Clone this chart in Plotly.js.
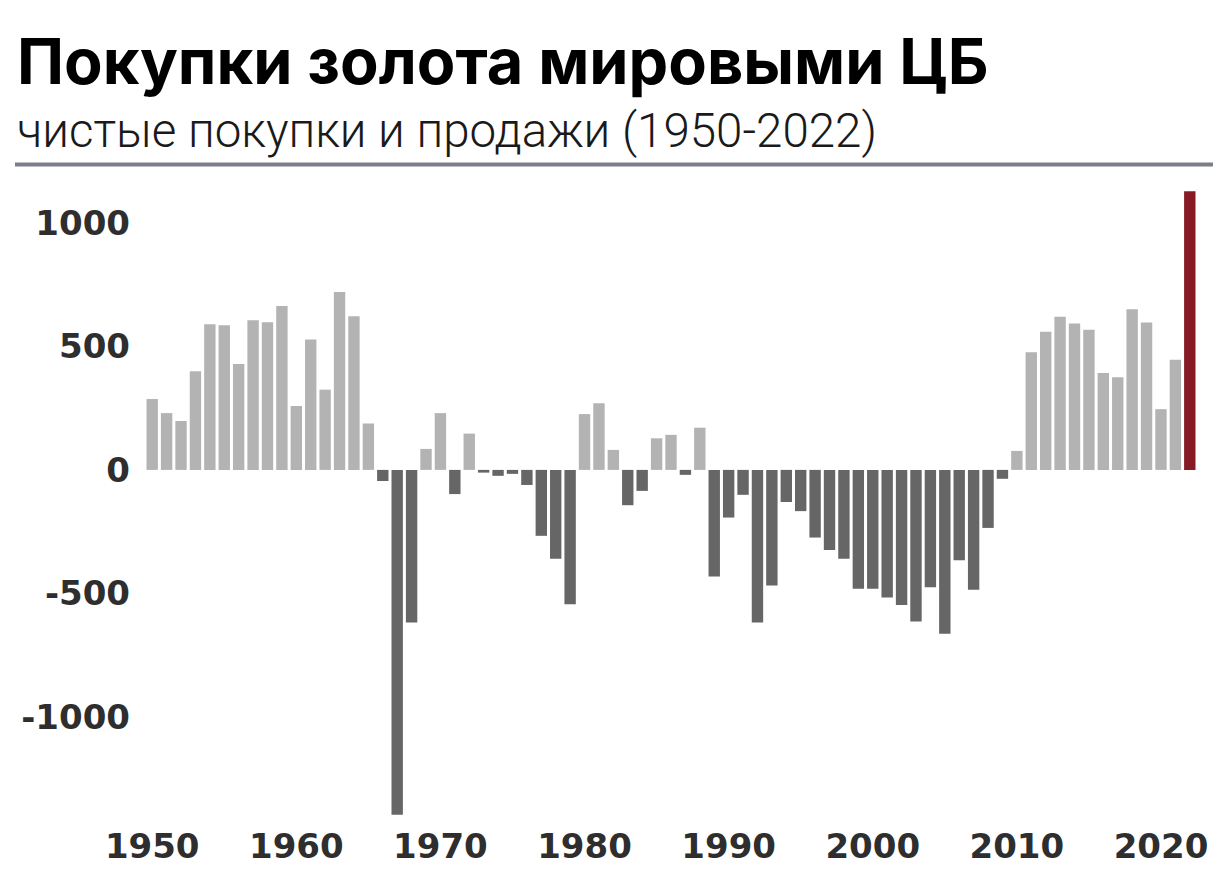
<!DOCTYPE html>
<html>
<head>
<meta charset="utf-8">
<script src="https://cdn.plot.ly/plotly-3.0.1.min.js"></script>
<style>
  html, body { margin: 0; padding: 0; background: #ffffff; }
  #chart { width: 1230px; height: 881px; }
</style>
</head>
<body>
<div id="chart"></div>
<script>
// ---- Data (tonnes, net purchases(+)/sales(-) by central banks) ----
const years = [
  1950,1951,1952,1953,1954,1955,1956,1957,1958,1959,
  1960,1961,1962,1963,1964,1965,1966,1967,1968,1969,
  1970,1971,1972,1973,1974,1975,1976,1977,1978,1979,
  1980,1981,1982,1983,1984,1985,1986,1987,1988,1989,
  1990,1991,1992,1993,1994,1995,1996,1997,1998,1999,
  2000,2001,2002,2003,2004,2005,2006,2007,2008,2009,
  2010,2011,2012,2013,2014,2015,2016,2017,2018,2019,
  2020,2021,2022
];
const netPurchases = [
  287, 230, 198, 400, 590, 586, 429, 606, 598, 664,
  259, 528, 325, 721, 622, 188, -45, -1397, -618, 85,
  230, -98, 147, -11, -24, -16, -61, -267, -360, -544,
  226, 270, 81, -143, -85, 128, 142, -20, 171, -432,
  -193, -101, -618, -468, -130, -167, -274, -324, -360, -481,
  -481, -517, -547, -614, -475, -664, -366, -485, -235, -36,
  77, 477, 560, 620, 593, 568, 392, 375, 651, 597,
  246, 446, 1129
];
const highlightYear = 2022;
const yTickVals = [-1000, -500, 0, 500, 1000];
const yTickText = ['-1000', '-500', '0', '500', '1000'];
const xTickVals = [1950, 1960, 1970, 1980, 1990, 2000, 2010, 2020];
const xTickText = ['1950', '1960', '1970', '1980', '1990', '2000', '2010', '2020'];

const titleText = 'Покупки золота мировыми ЦБ';
const subtitleText = 'чистые покупки и продажи (1950-2022)';

// ---- Styles ----
const COLOR_POS = '#b3b3b3';
const COLOR_NEG = '#666666';
const COLOR_HL = '#861b25';
const barColors = years.map((y, i) =>
  y === highlightYear ? COLOR_HL : (netPurchases[i] >= 0 ? COLOR_POS : COLOR_NEG));

const tickFont = { family: 'DejaVu Sans', size: 34, color: '#2e2e2e', weight: 700 };

const trace = {
  type: 'bar',
  x: years,
  y: netPurchases,
  marker: { color: barColors, line: { width: 0 } },
  hoverinfo: 'x+y'
};

const layout = {
  width: 1230,
  height: 881,
  margin: { l: 145, r: 33, t: 185, b: 63 },
  paper_bgcolor: '#ffffff',
  plot_bgcolor: '#ffffff',
  bargap: 0.21,
  showlegend: false,
  xaxis: {
    range: [1949.5, 2022.5],
    tickvals: xTickVals,
    ticktext: xTickText,
    tickfont: tickFont,
    showgrid: false,
    zeroline: false,
    showline: false,
    ticks: '',
    ticklabelstandoff: 5,
    fixedrange: true
  },
  yaxis: {
    range: [-1410, 1154],
    tickvals: yTickVals,
    ticktext: yTickText,
    tickfont: tickFont,
    showgrid: false,
    zeroline: false,
    showline: false,
    ticks: '',
    ticklabelstandoff: 14,
    fixedrange: true
  },
  annotations: [
    {
      text: '<b>' + titleText + '</b>',
      xref: 'paper', yref: 'paper',
      x: -0.1236, y: 1.196,
      xanchor: 'left', yanchor: 'middle',
      showarrow: false,
      font: { family: 'Inter', size: 63, color: '#000000' }
    },
    {
      text: subtitleText,
      xref: 'paper', yref: 'paper',
      x: -0.1236, y: 1.0855,
      xanchor: 'left', yanchor: 'middle',
      showarrow: false,
      font: { family: 'Roboto', size: 47.5, color: '#1a1a1a', weight: 300 }
    }
  ],
  shapes: [
    {
      type: 'line',
      xref: 'paper', yref: 'paper',
      x0: -0.1236, x1: 1.0152,
      y0: 1.0324, y1: 1.0324,
      line: { color: '#7c7f88', width: 4 }
    }
  ]
};

Plotly.newPlot('chart', [trace], layout, { displayModeBar: false, staticPlot: true });
</script>
</body>
</html>
